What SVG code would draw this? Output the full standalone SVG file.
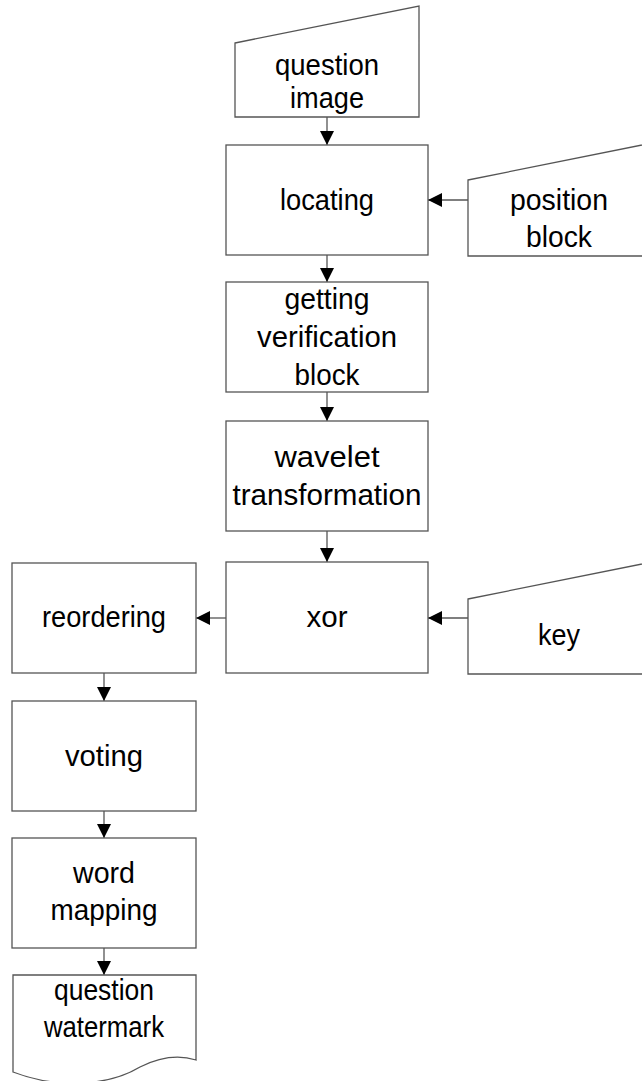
<svg xmlns="http://www.w3.org/2000/svg" width="642" height="1081" viewBox="0 0 642 1081">
<style>
.s{fill:#fff;stroke:#555;stroke-width:1.3}
.t{font-family:"Liberation Sans",Arial,sans-serif;font-size:30px;fill:#000;text-anchor:middle}
.c{stroke:#555;stroke-width:1.3;fill:none;marker-end:url(#ah)}
</style>
<defs>
<marker id="ah" markerUnits="userSpaceOnUse" markerWidth="15" markerHeight="15" refX="14" refY="7" orient="auto">
<path d="M0,0 L14,7 L0,14 Z" fill="#000"/>
</marker>
</defs>
<rect width="642" height="1081" fill="#fff"/>
<g id="connectors">
<line class="c" x1="327" y1="117" x2="327" y2="145"/>
<line class="c" x1="468" y1="200" x2="428" y2="200"/>
<line class="c" x1="327" y1="255" x2="327" y2="282"/>
<line class="c" x1="327" y1="392" x2="327" y2="421"/>
<line class="c" x1="327" y1="531" x2="327" y2="562"/>
<line class="c" x1="468" y1="618" x2="428" y2="618"/>
<line class="c" x1="226" y1="618" x2="196" y2="618"/>
<line class="c" x1="104" y1="673" x2="104" y2="701"/>
<line class="c" x1="104" y1="811" x2="104" y2="838"/>
<line class="c" x1="104" y1="948" x2="104" y2="975"/>
</g>
<g id="question-image">
<path class="s" d="M235,43 L419,6 L419,117 L235,117 Z"/>
<text class="t" x="327" y="75" textLength="104" lengthAdjust="spacingAndGlyphs">question</text>
<text class="t" x="327" y="108" textLength="74" lengthAdjust="spacingAndGlyphs">image</text>
</g>
<g id="locating">
<rect class="s" x="226" y="145" width="202" height="110"/>
<text class="t" x="327" y="210" textLength="94" lengthAdjust="spacingAndGlyphs">locating</text>
</g>
<g id="position-block">
<path class="s" d="M468,180 L652,143 L652,256 L468,256 Z"/>
<text class="t" x="559" y="210" textLength="98" lengthAdjust="spacingAndGlyphs">position</text>
<text class="t" x="559" y="247" textLength="66" lengthAdjust="spacingAndGlyphs">block</text>
</g>
<g id="getting-verification-block">
<rect class="s" x="226" y="282" width="202" height="110"/>
<text class="t" x="327" y="309" textLength="85" lengthAdjust="spacingAndGlyphs">getting</text>
<text class="t" x="327" y="347" textLength="140" lengthAdjust="spacingAndGlyphs">verification</text>
<text class="t" x="327" y="385" textLength="65" lengthAdjust="spacingAndGlyphs">block</text>
</g>
<g id="wavelet-transformation">
<rect class="s" x="226" y="421" width="202" height="110"/>
<text class="t" x="327" y="467" textLength="105" lengthAdjust="spacingAndGlyphs">wavelet</text>
<text class="t" x="327" y="505" textLength="189" lengthAdjust="spacingAndGlyphs">transformation</text>
</g>
<g id="xor">
<rect class="s" x="226" y="562" width="202" height="111"/>
<text class="t" x="327" y="627" textLength="41" lengthAdjust="spacingAndGlyphs">xor</text>
</g>
<g id="key">
<path class="s" d="M468,599 L652,562 L652,674 L468,674 Z"/>
<text class="t" x="559" y="645" textLength="42" lengthAdjust="spacingAndGlyphs">key</text>
</g>
<g id="reordering">
<rect class="s" x="12" y="563" width="184" height="110"/>
<text class="t" x="104" y="627" textLength="124" lengthAdjust="spacingAndGlyphs">reordering</text>
</g>
<g id="voting">
<rect class="s" x="12" y="701" width="184" height="110"/>
<text class="t" x="104" y="766" textLength="78" lengthAdjust="spacingAndGlyphs">voting</text>
</g>
<g id="word-mapping">
<rect class="s" x="12" y="838" width="184" height="110"/>
<text class="t" x="104" y="883" textLength="62" lengthAdjust="spacingAndGlyphs">word</text>
<text class="t" x="104" y="920" textLength="107" lengthAdjust="spacingAndGlyphs">mapping</text>
</g>
<g id="question-watermark">
<path class="s" d="M13,975 L196,975 L196,1060 C180,1055 160,1057 140,1067 C110,1085 60,1090 13,1072 Z"/>
<text class="t" x="104" y="1000" textLength="100" lengthAdjust="spacingAndGlyphs">question</text>
<text class="t" x="104" y="1037" textLength="120" lengthAdjust="spacingAndGlyphs">watermark</text>
</g>
</svg>
